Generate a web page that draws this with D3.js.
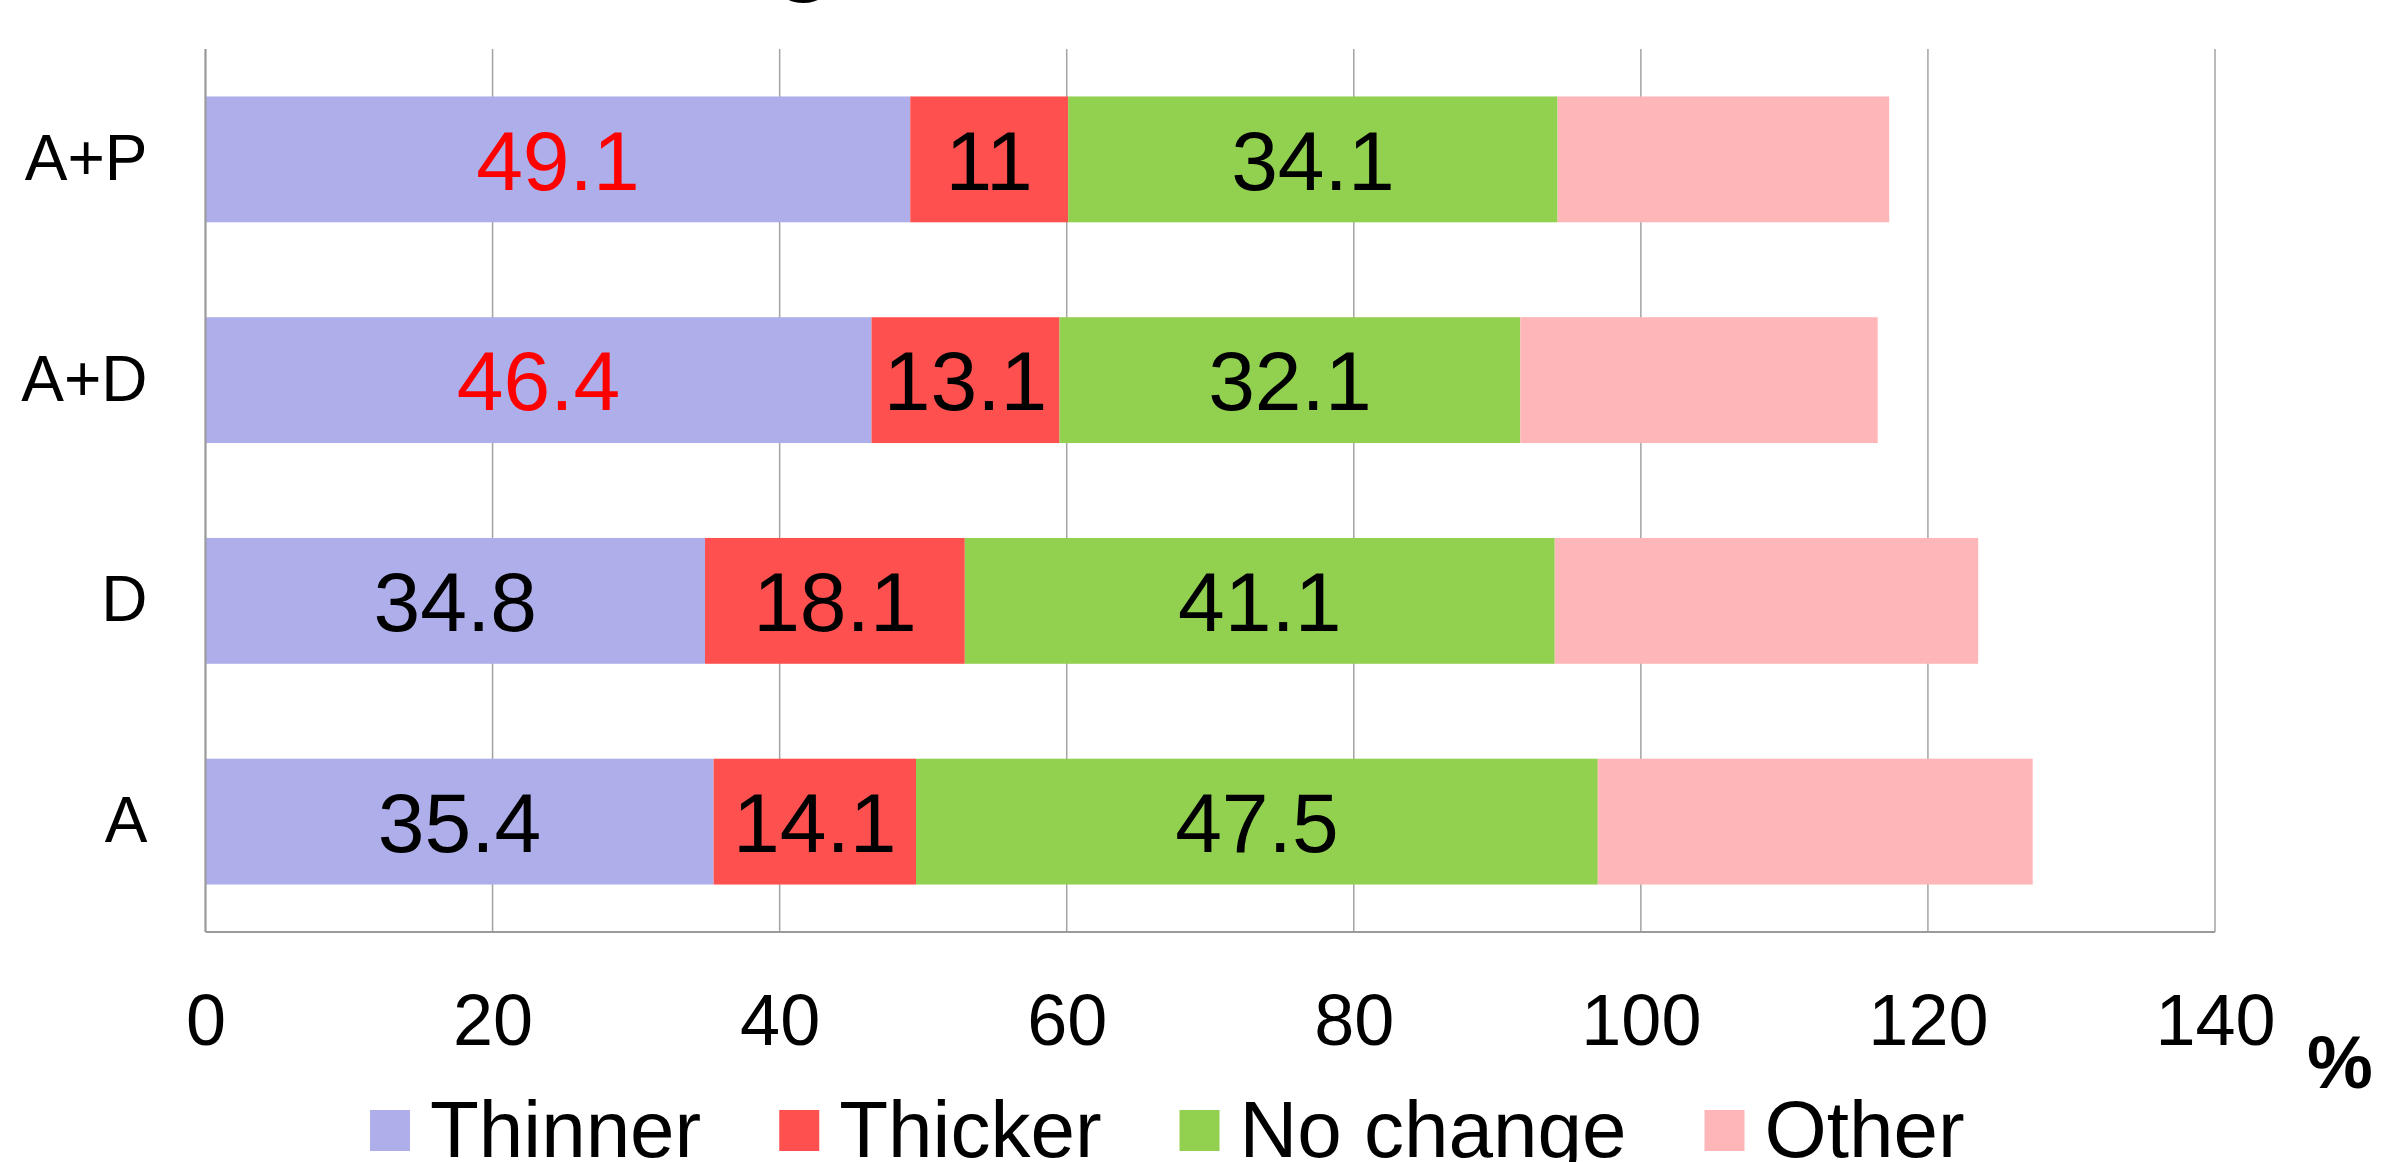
<!DOCTYPE html>
<html>
<head>
<meta charset="utf-8">
<script src="https://cdn.jsdelivr.net/npm/d3@7"></script>
<style>
  html, body { margin: 0; padding: 0; background: #fff; overflow: hidden; }
  svg { display: block; font-family: "Liberation Sans", Arial, sans-serif; }
</style>
</head>
<body>
<svg id="chart" width="2384" height="1162"></svg>
<script>
// Treatment groups (top to bottom) and the share of each outcome, in %
const groups   = ["A+P", "A+D", "D", "A"];
const thinner  = [49.1, 46.4, 34.8, 35.4];
const thicker  = [11, 13.1, 18.1, 14.1];
const noChange = [34.1, 32.1, 41.1, 47.5];
const other    = [23.1, 24.9, 29.5, 30.3];

const seriesNames  = ["Thinner", "Thicker", "No change", "Other"];
const seriesColors = ["#aeaeeb", "#ff5050", "#92d050", "#ffb6b8"];
const xTicks = [0, 20, 40, 60, 80, 100, 120, 140];

// Value labels: which series show their number, and in what colour per group
const labelled = [true, true, true, false];
const thinnerLabelColors = ["#ff0000", "#ff0000", "#000000", "#000000"];

const svg = d3.select("#chart");

const rows = groups.map((g, i) => ({
  group: g,
  "Thinner": thinner[i],
  "Thicker": thicker[i],
  "No change": noChange[i],
  "Other": other[i]
}));

const stacked = d3.stack().keys(seriesNames)(rows);

const plotLeft = 205.5, plotRight = 2215, plotTop = 49, plotBottom = 932;

const x = d3.scaleLinear().domain([0, 140]).range([plotLeft, plotRight]);
const y = d3.scaleBand().domain(groups).range([plotTop, plotBottom])
  .paddingInner(0.43).paddingOuter(0.215);

// Vertical gridlines
svg.append("g")
  .selectAll("line")
  .data(xTicks)
  .join("line")
  .attr("x1", d => x(d)).attr("x2", d => x(d))
  .attr("y1", plotTop).attr("y2", plotBottom)
  .attr("stroke", "#a3a3a3")
  .attr("stroke-width", 1.5);

// Stacked bars
const layers = svg.append("g")
  .selectAll("g")
  .data(stacked)
  .join("g")
  .attr("fill", (d, i) => seriesColors[i]);

layers.selectAll("rect")
  .data(d => d)
  .join("rect")
  .attr("x", d => x(d[0]))
  .attr("width", d => x(d[1]) - x(d[0]))
  .attr("y", d => y(d.data.group))
  .attr("height", y.bandwidth());

// Value labels centred in each segment
stacked.forEach((layer, si) => {
  if (!labelled[si]) return;
  svg.append("g")
    .selectAll("text")
    .data(layer)
    .join("text")
    .attr("x", d => (x(d[0]) + x(d[1])) / 2)
    .attr("y", d => y(d.data.group) + y.bandwidth() / 2)
    .attr("dy", "0.36em")
    .attr("text-anchor", "middle")
    .attr("font-size", 84)
    .attr("fill", (d, i) => si === 0 ? thinnerLabelColors[i] : "#000")
    .text(d => d.data[layer.key]);
});

// Axis lines (left and bottom)
svg.append("line")
  .attr("x1", plotLeft).attr("x2", plotLeft).attr("y1", plotTop).attr("y2", plotBottom)
  .attr("stroke", "#9a9a9a").attr("stroke-width", 2);
svg.append("line")
  .attr("x1", plotLeft).attr("x2", plotRight).attr("y1", plotBottom).attr("y2", plotBottom)
  .attr("stroke", "#9a9a9a").attr("stroke-width", 2);

// X axis tick labels
const xAxis = d3.axisBottom(x).tickValues(xTicks).tickSize(0).tickPadding(62);
const gx = svg.append("g").attr("transform", `translate(0,${plotBottom})`).call(xAxis);
gx.select(".domain").remove();
gx.selectAll("text")
  .attr("font-size", 72)
  .attr("font-family", "Liberation Sans, Arial, sans-serif")
  .attr("fill", "#000");

// Y axis category labels
const yAxis = d3.axisLeft(y).tickSize(0).tickPadding(58);
const gy = svg.append("g").attr("transform", `translate(${plotLeft},0)`).call(yAxis);
gy.select(".domain").remove();
gy.selectAll("text")
  .attr("font-size", 64)
  .attr("font-family", "Liberation Sans, Arial, sans-serif")
  .attr("fill", "#000");

// Unit marker
svg.append("text")
  .attr("x", 2307).attr("y", 1088)
  .attr("font-size", 74)
  .attr("font-weight", "bold")
  .attr("fill", "#000")
  .text("%");

// Title tail showing at the top edge
svg.append("text")
  .attr("x", 774).attr("y", -18)
  .attr("font-size", 100)
  .attr("font-weight", "bold")
  .attr("fill", "#000")
  .text("g");

// Legend
const legend = svg.append("g");
let lx = 370;
seriesNames.forEach((name, i) => {
  legend.append("rect")
    .attr("x", lx).attr("y", 1110)
    .attr("width", 40).attr("height", 41)
    .attr("fill", seriesColors[i]);
  const t = legend.append("text")
    .attr("x", lx + 60).attr("y", 1157)
    .attr("font-size", 80)
    .attr("fill", "#000")
    .text(name);
  lx += 60 + t.node().getComputedTextLength() + 78;
});
</script>
</body>
</html>
